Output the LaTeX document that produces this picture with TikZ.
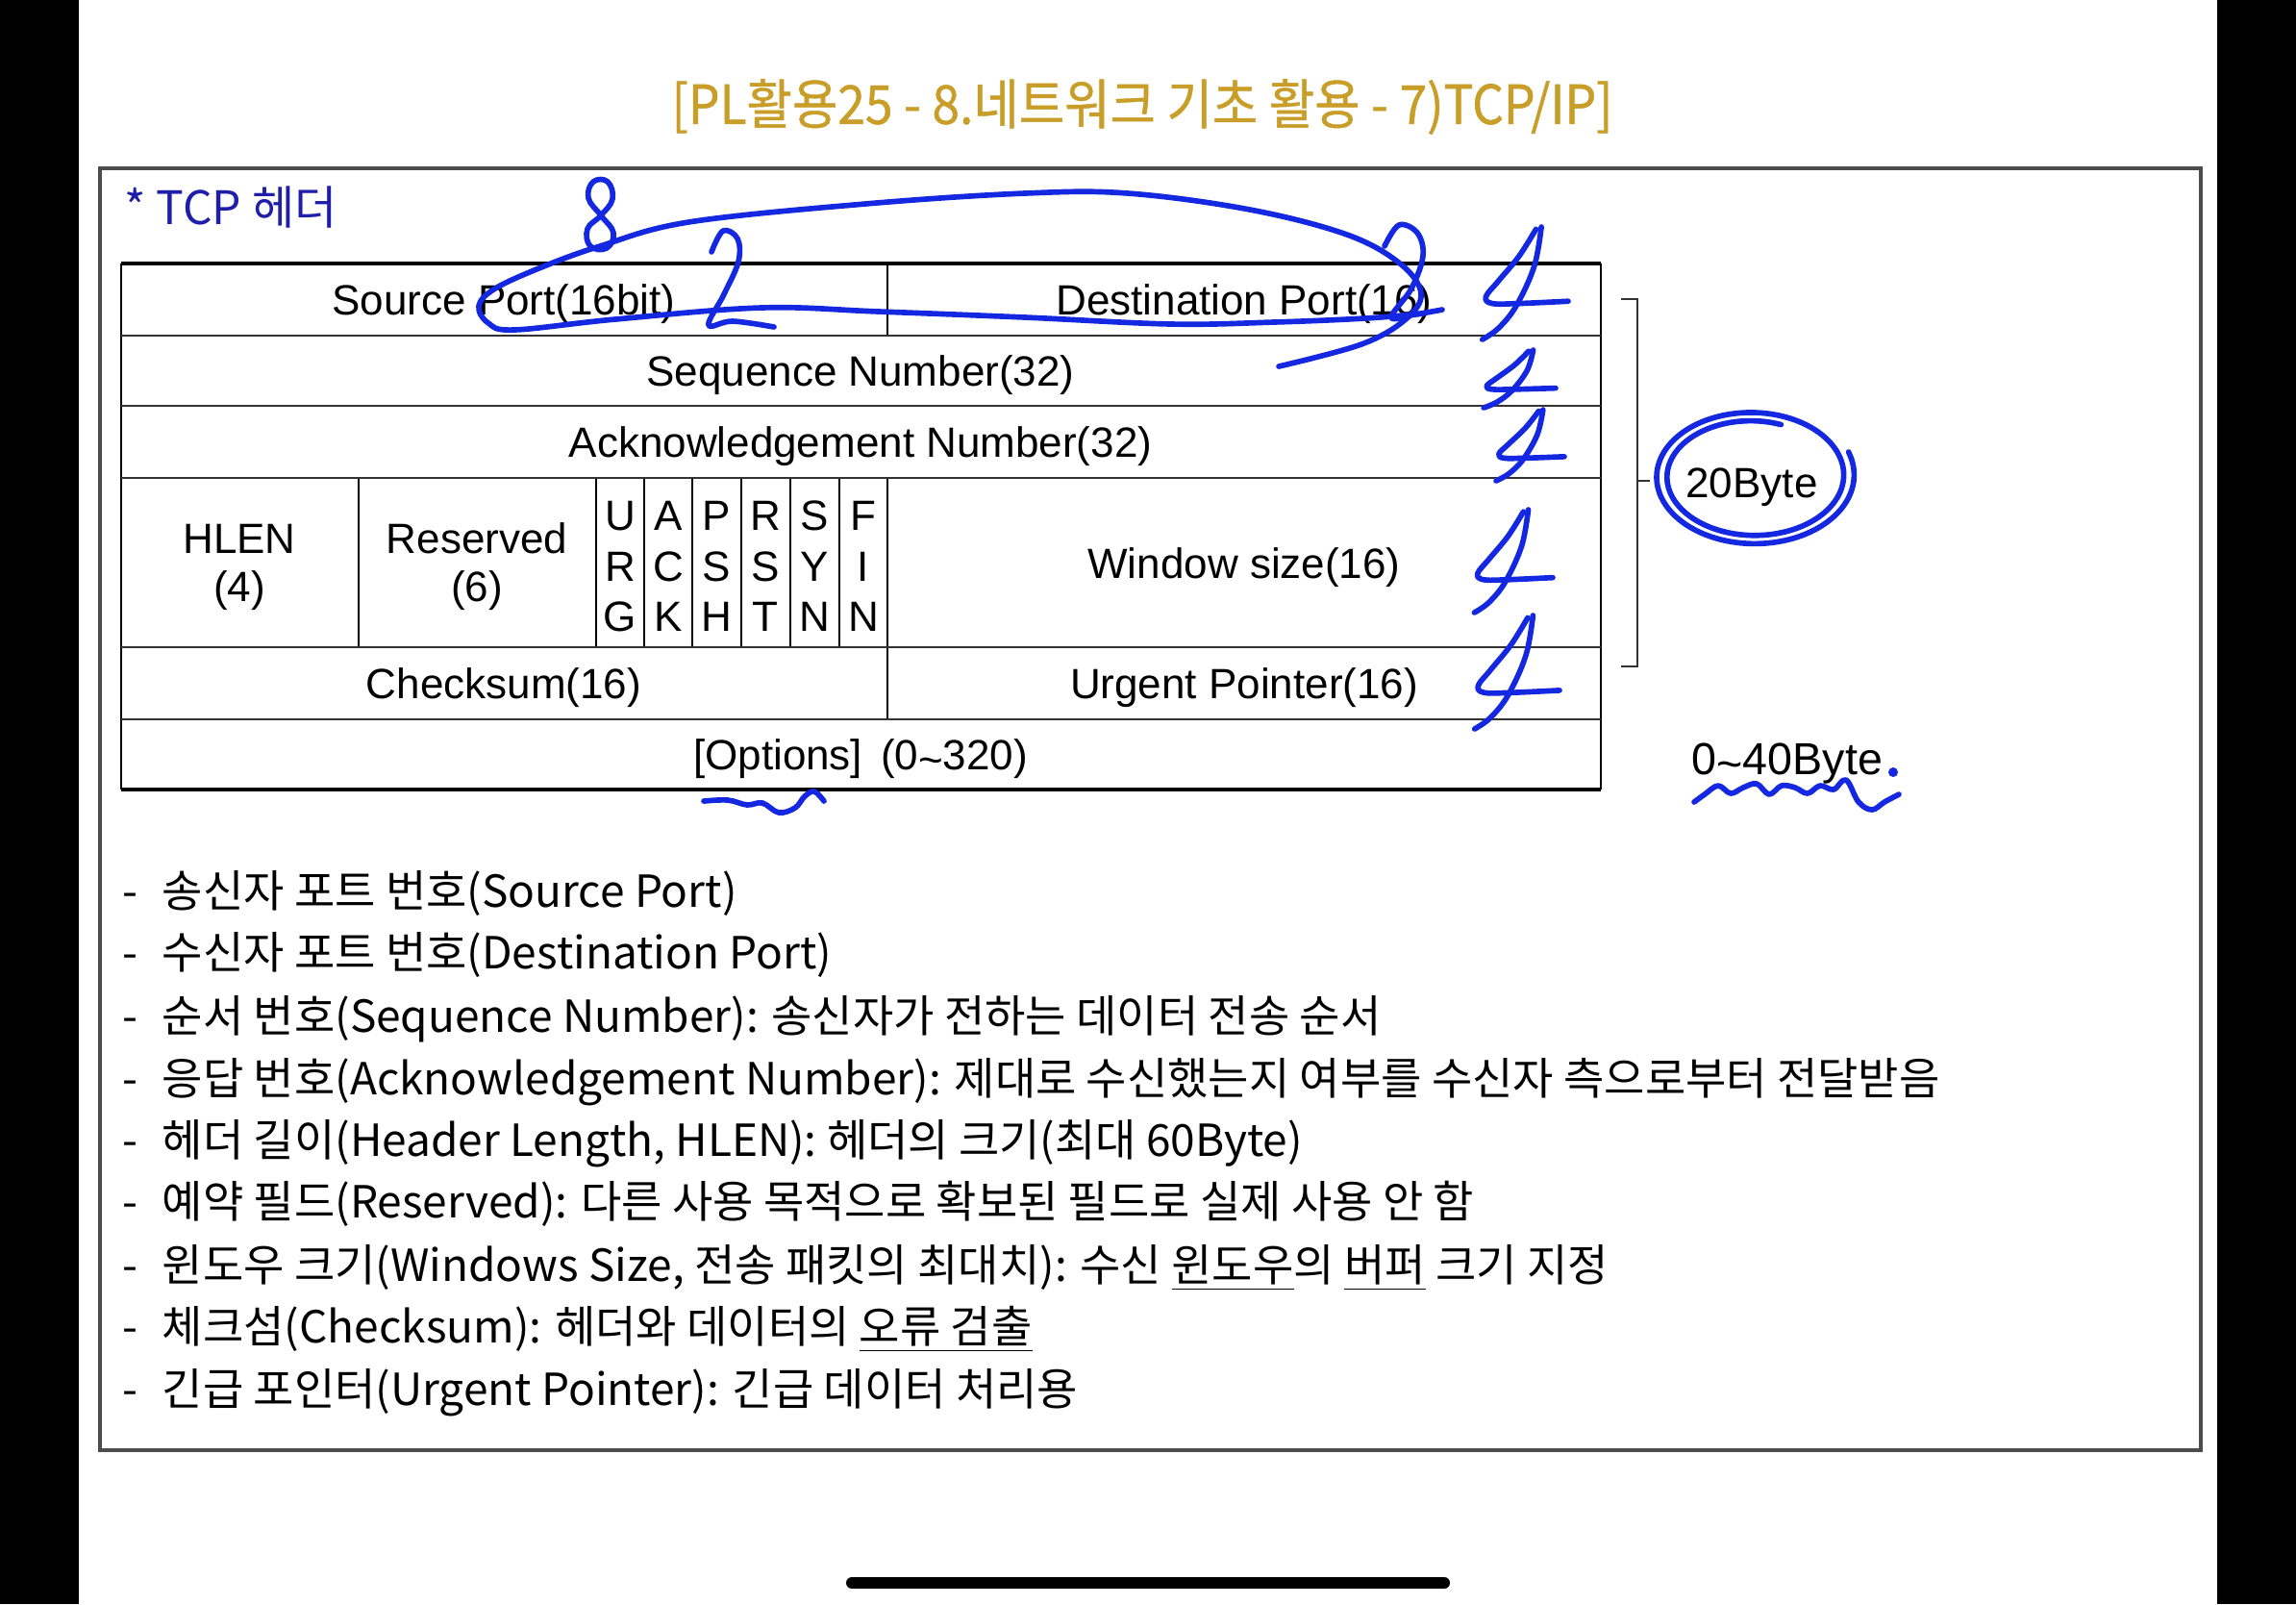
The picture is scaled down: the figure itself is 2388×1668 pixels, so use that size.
\documentclass[tikz,border=0pt]{standalone}
\usepackage{fontspec}
\setmainfont{Liberation Sans}
\newfontfamily\kr{Noto Sans CJK KR}
\newfontfamily\titlekr[FakeStretch=0.92,FakeBold=0.8]{Noto Sans CJK KR}
\definecolor{gold}{RGB}{200,158,40}
\definecolor{hdblue}{RGB}{30,30,170}
\definecolor{pen}{RGB}{20,40,225}
\newcommand{\dashlead}{-\hspace{4.5pt} }
\begin{document}
\begin{tikzpicture}[x=0.3pt,y=-0.3pt,
  cell/.style={font=\fontsize{13.2}{15}\selectfont, anchor=base, inner sep=0pt},
  item/.style={font=\kr\fontsize{13.8}{16}\selectfont, anchor=base west, inner sep=0pt},
  hline/.style={line width=0.8pt, draw=black!80},
  vline/.style={line width=0.45pt, draw=black},
  ink/.style={draw=pen, line width=1.7pt, line cap=round, line join=round},
]
\useasboundingbox (0,0) rectangle (2388,1668);
\fill[white] (0,0) rectangle (2388,1668);
\fill[black] (0,0) rectangle (82,1668);
\fill[black] (2306,0) rectangle (2388,1668);
% home bar
\coordinate (barL) at (886,1646);
\coordinate (barR) at (1502,1646);
\draw[line width=3.6pt, line cap=round] (barL) -- (barR);
% title
\node[font=\titlekr\fontsize{16.8}{18}\selectfont, text=gold, inner sep=0pt] (title) at (1188,111) {[PL활용25 - 8.네트워크 기초 활용 - 7)TCP/IP]};
% frame
\draw[line width=1pt, draw=black!70] (104,175) rectangle (2289,1508);
\node[font=\kr\fontsize{14.4}{16}\selectfont, text=hdblue, anchor=base west, inner sep=0pt] (head) at (129,233) {* TCP 헤더};
% table lines
\draw[vline] (126,274) -- (126,821);
\draw[vline] (1665,274) -- (1665,821);
\draw[vline] (923,274) -- (923,349);
\draw[vline] (923,497) -- (923,748);
\draw[vline] (373,497) -- (373,673);
\foreach \xx in {620,670,720,771,822,873} \draw[vline] (\xx,497) -- (\xx,673);
\foreach \yy in {349,422,497,673,748} \draw[hline] (126,\yy) -- (1665,\yy);
\draw[line width=1.2pt] (126,274) -- (1665,274);
\draw[line width=1.1pt] (126,821) -- (1665,821);
% table text
\node[cell] (src) at (524,327) {Source Port(16bit)};
\node[cell] (dst) at (1294,327) {Destination Port(16)};
\node[cell] (seq) at (895,401) {Sequence Number(32)};
\node[cell] (ack) at (895,475) {Acknowledgement Number(32)};
\node[cell] (hlen) at (249,575) {HLEN};
\node[cell] (hlen4) at (249,625) {(4)};
\node[cell] (res) at (496,575) {Reserved};
\node[cell] (res6) at (496,625) {(6)};
\node[cell] (u1) at (645,551) {U};\node[cell] (u2) at (645,604) {R};\node[cell] (u3) at (645,656) {G};
\node[cell] (a1) at (695,551) {A};\node[cell] (a2) at (695,604) {C};\node[cell] (a3) at (695,656) {K};
\node[cell] (p1) at (745,551) {P};\node[cell] (p2) at (745,604) {S};\node[cell] (p3) at (745,656) {H};
\node[cell] (r1) at (796,551) {R};\node[cell] (r2) at (796,604) {S};\node[cell] (r3) at (796,656) {T};
\node[cell] (s1) at (847,551) {S};\node[cell] (s2) at (847,604) {Y};\node[cell] (s3) at (847,656) {N};
\node[cell] (f1) at (898,551) {F};\node[cell] (f2) at (898,604) {I};\node[cell] (f3) at (898,656) {N};
\node[cell] (win) at (1294,601) {Window size(16)};
\node[cell] (chk) at (524,726) {Checksum(16)};
\node[cell] (urg) at (1294,726) {Urgent Pointer(16)};
\node[cell] (opt) at (895,800) {[Options]\hspace{2pt} (0\raisebox{-0.12em}{\textasciitilde}320)};
% bracket
\coordinate (bt) at (1686,311);
\coordinate (bb) at (1686,693);
\coordinate (bm) at (1716,500);
\draw[line width=0.45pt, draw=black!80] (bt) -- (1703,311) -- (1703,693) -- (bb);
\draw[line width=0.45pt, draw=black!80] (1703,500) -- (bm);
\node[cell] (twenty) at (1822,517) {20Byte};
\node[cell, anchor=base west, font=\fontsize{14}{15}\selectfont] (forty) at (1759,805) {0\raisebox{-0.12em}{\textasciitilde}40Byte};
% list
\node[item] (l1) at (127,943) {\dashlead 송신자 포트 번호(Source Port)};
\node[item] (l2) at (127,1007) {\dashlead 수신자 포트 번호(Destination Port)};
\node[item] (l3) at (127,1073) {\dashlead 순서 번호(Sequence Number): 송신자가 전하는 데이터 전송 순서};
\node[item] (l4) at (127,1138) {\dashlead 응답 번호(Acknowledgement Number): 제대로 수신했는지 여부를 수신자 측으로부터 전달받음};
\node[item] (l5) at (127,1202) {\dashlead 헤더 길이(Header Length, HLEN): 헤더의 크기(최대 60Byte)};
\node[item] (l6) at (127,1266) {\dashlead 예약 필드(Reserved): 다른 사용 목적으로 확보된 필드로 실제 사용 안 함};
\node[item] (l7) at (127,1332) {\dashlead 윈도우 크기(Windows Size, 전송 패킷의 최대치): 수신 \underline{윈도우}의 \underline{버퍼} 크기 지정};
\node[item] (l8) at (127,1396) {\dashlead 체크섬(Checksum): 헤더와 데이터의 \underline{오류 검출}};
\node[item] (l9) at (127,1461) {\dashlead 긴급 포인터(Urgent Pointer): 긴급 데이터 처리용};
% ---- handwriting
% big loop
\draw[ink] plot[smooth, tension=0.6] coordinates {(1330,381) (1416,358) (1462,332) (1478,305) (1456,274) (1401,244) (1300,218) (1173,201) (1066,201) (900,212) (716,231) (624,256) (563,278) (515,300) (498,318) (508,336) (535,343) (640,332) (792,320) (914,324) (1066,330) (1218,337) (1325,335) (1420,331) (1480,326)};
% 8
\draw[ink] plot[smooth cycle, tension=0.7] coordinates {(625,224) (637,207) (632,189) (617,189) (612,206) (625,224) (638,242) (631,258) (614,256) (611,238)};
% 2 (middle)
\draw[ink] plot[smooth, tension=0.6] coordinates {(740,262) (752,240) (767,248) (768,272) (753,306) (737,338) (762,334) (805,340)};
% 2 (right)
\draw[ink] plot[smooth, tension=0.6] coordinates {(1440,256) (1455,234) (1474,242) (1480,266) (1468,300) (1447,330) (1472,327) (1500,322)};
% fours
\foreach \fx/\fy/\fw/\fh in {1538/236/93/117, 1540/364/78/60, 1553/426/74/74, 1530/530/85/107, 1530/640/92/118}{
  \begin{scope}[shift={(\fx,\fy)}, xscale=\fw/100, yscale=\fh/100]
    \draw[ink] plot[smooth, tension=0.6] coordinates {(64,2) (45,26) (22,48) (8,62) (15,68) (45,68) (100,66)};
    \draw[ink] plot[smooth, tension=0.6] coordinates {(70,0) (62,35) (42,70) (22,90) (4,100)};
  \end{scope}
}
% ellipse around 20Byte
\draw[ink] plot[smooth, samples=110, domain=-20:650, variable=\t] ({1823+(106-0.03*(\t+20))*cos(\t)}, {495+(73-0.024*(\t+20))*sin(\t)});
% options squiggle
\draw[ink] plot[smooth, tension=0.6] coordinates {(732,833) (757,832) (777,837) (793,835) (810,845) (827,840) (837,828) (847,823) (857,833)};
% 40Byte squiggle and dot
\draw[ink] plot[smooth, tension=0.6] coordinates {(1762,834) (1773,826) (1787,817) (1800,825) (1813,819) (1827,815) (1840,826) (1853,817) (1867,819) (1880,825) (1893,817) (1907,821) (1920,811) (1933,834) (1947,842) (1960,834) (1975,826)};
\fill[pen] (1969,803) circle[radius=5];
\end{tikzpicture}
\end{document}
